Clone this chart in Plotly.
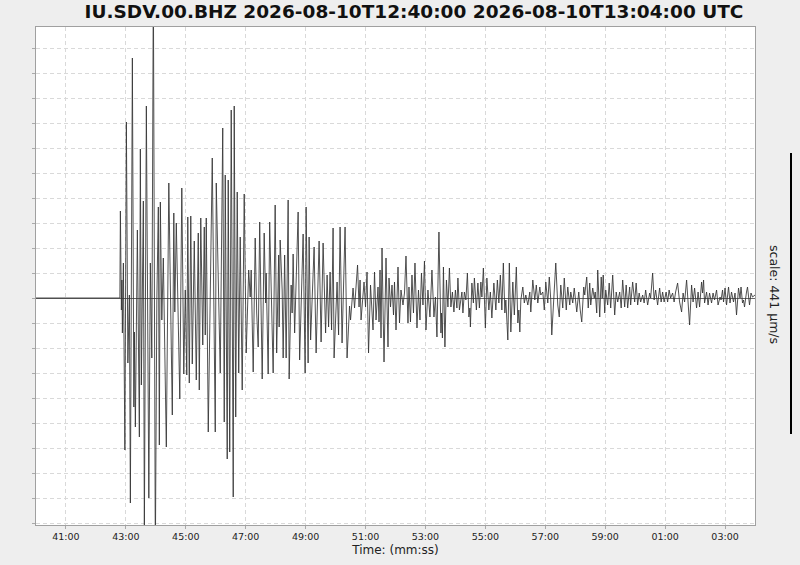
import pandas as pd
import plotly.graph_objects as go

# Seismogram IU.SDV.00.BHZ, amplitudes in counts (1 count ~ 1.57 um/s), time in s after 12:40:00
title_text = "IU.SDV.00.BHZ 2026-08-10T12:40:00 2026-08-10T13:04:00 UTC"
start_time = "2026-08-10 12:40:00"
end_time = "2026-08-10 13:04:00"
scale_label = "scale: 441 µm/s"

# pre-event + P/S onset (large amplitudes)
t_onset = [0, 168, 169, 171, 172, 173, 175, 178, 181, 184, 187, 189, 193, 196, 197, 199, 203, 207,
           209, 211, 215, 217, 221, 226, 229, 232, 235, 239, 242, 245, 247, 249, 252, 255, 261, 266,
           273, 276, 278, 281, 288, 292, 296, 299, 302, 304, 307, 310, 313, 317, 321, 325, 327, 330,
           334, 337, 339, 341, 345, 353, 359, 361, 369, 374, 377, 379, 383, 385, 388, 391, 395, 397,
           400, 403, 406, 409, 413, 417, 421, 426, 429, 431, 435, 439]
a_onset = [0, 0, 87, -12, 18, -35, 35, -152, 176, -65, 3, -205, 240, -109, -34, -129, 68, -139,
           149, -87, 97, -240, 192, -200, 35, -60, 320, -260, -2, 91, -147, 96, -22, 40, -149, 115,
           -117, 85, -14, 75, -101, 110, -76, 8, -77, 81, -85, 82, -66, 57, -82, 65, -92, 80,
           -47, 71, -37, 80, -134, 140, -134, 115, -75, 170, -124, 123, -161, 118, -154, 188, -199, 192,
           -119, 106, -75, 61, -92, 104, -55, 28, 1, 28, -74, 60]

# surface waves
t_surface = [442, 445, 448, 453, 457, 460, 461, 465, 468, 471, 475, 479, 482, 486, 487, 489, 493, 495,
             498, 501, 505, 507, 511, 513, 515, 518, 525, 528, 535, 539, 541, 545, 547, 550, 557, 561,
             567, 571, 575, 580, 583, 586, 589, 592, 595, 597, 603, 606, 609, 613, 619, 623, 628, 630,
             635, 638, 644, 647, 649, 651, 657, 660, 663, 666, 670, 675]
a_surface = [-15, -49, 76, -81, 65, -5, 25, -76, 76, 8, -75, 93, -55, 43, -29, 58, 8, -60,
             43, -60, 98, -81, 13, -15, 44, -35, 86, -62, 64, -75, 91, -65, 61, -42, 51, -55,
             57, -44, 55, -35, 23, -29, 26, -32, 70, -60, 16, -37, 71, -45, 71, -60, -8, -22,
             10, -10, 33, -9, 18, -22, 16, -9, 26, -55, 13, -32]

# coda, first part
t_coda1 = [678, 681, 685, 687, 689, 691, 693, 697, 701, 705, 707, 710, 713, 716, 718, 721, 725, 728,
           731, 735, 738, 741, 745, 747, 750, 753, 756, 759, 763, 766, 769, 772, 775, 778, 781, 785,
           789, 793, 797, 800, 803, 807, 811, 812, 814, 816, 819, 822, 825, 828, 831, 834, 837, 840,
           843, 845, 848, 853, 855, 858, 861, 864, 867, 869, 870, 873, 876, 878, 882, 885, 888, 891,
           893, 896, 900, 903, 907, 910, 913, 917, 921, 924, 927, 930, 933, 936, 939, 941, 945, 948,
           951, 955, 958, 962, 965, 967, 969, 971, 975, 978, 981, 985, 989, 991, 995, 999, 1002, 1005,
           1009, 1011, 1015, 1018, 1021, 1025, 1028, 1031, 1033]
a_coda1 = [26, -22, 11, -24, 28, -40, 50, -64, 40, -49, 20, -9, 13, -17, 16, -32, 31, -25,
           8, -7, 5, 42, -25, 11, -24, 23, -15, 35, -30, 8, -22, 25, -7, 37, -32, 8,
           -19, 28, -19, 1, -39, 66, -35, -15, -40, 31, -49, 18, -9, 30, -9, 6, -14, 8,
           -10, 20, -12, 6, -15, 6, -2, 25, -19, -10, -29, 15, -5, 20, -12, 15, -10, 16,
           1, 30, -30, 20, -12, 6, -20, 15, -12, 18, -5, 23, -12, 35, -15, -2, -42, 35,
           -34, 16, -17, 31, -25, -12, -34, -2, 11, -5, 3, -7, 6, -14, 18, -2, 13, -5,
           11, 3, 6, -12, 16, -5, 21, -2, -37]

# coda, second part
t_coda2 = [1041, 1045, 1048, 1051, 1055, 1058, 1062, 1065, 1069, 1071, 1075, 1078, 1083, 1087, 1090,
           1093, 1097, 1099, 1103, 1106, 1109, 1111, 1115, 1118, 1120, 1123, 1125, 1129, 1132, 1134,
           1136, 1139, 1141, 1145, 1148, 1151, 1155, 1159, 1162, 1165, 1169, 1172, 1175, 1179, 1182,
           1185, 1189, 1191, 1195, 1199, 1202, 1205, 1208, 1211, 1215, 1218, 1221, 1225, 1229, 1231,
           1235, 1238, 1241, 1245, 1249, 1252, 1255, 1258, 1262, 1265, 1268, 1271, 1275, 1278, 1281,
           1285, 1289, 1293, 1296, 1299, 1303, 1306, 1309, 1313, 1316, 1319, 1323, 1326, 1329, 1333,
           1335, 1337, 1339, 1343, 1346, 1349, 1353, 1356, 1359, 1363, 1366, 1370, 1372, 1375, 1377,
           1380, 1383, 1387, 1390, 1393, 1397, 1400, 1403, 1407, 1410, 1412, 1415, 1417, 1419, 1423,
           1425, 1429, 1432, 1435, 1440]
a_coda2 = [35, -7, -19, 13, -10, 20, -12, 11, -7, 6, -5, 10, -14, 6, -12,
           -24, 11, 3, 21, -10, 15, -7, 10, 0, 6, -15, 28, -19, 21, 0,
           23, -15, 8, -7, 15, -10, 23, -17, 6, -4, 6, -10, 18, -9, 13,
           -10, 11, -7, 16, -4, 15, -7, 5, -4, 3, -5, 8, -7, 5, 0,
           25, -2, 8, -7, 10, -4, 6, -4, 6, -4, 8, 0, 5, -4, 6,
           15, -4, -14, 5, -4, 18, -4, -27, 13, -4, 10, -10, 6, -9, 16,
           5, 18, -5, 6, -7, 5, -5, 5, -2, 8, -7, 1, -2, 8, -4,
           10, -7, 11, -5, 6, -4, 5, -17, 10, 0, 11, -5, -2, -9, 6,
           11, -7, 5, 1, 3]

# x tick labels
tick_labels = ["41:00", "43:00", "45:00", "47:00", "49:00", "51:00",
               "53:00", "55:00", "57:00", "59:00", "01:00", "03:00"]

t_all = t_onset + t_surface + t_coda1 + t_coda2
a_all = a_onset + a_surface + a_coda1 + a_coda2
base = pd.Timestamp(start_time)
times = [base + pd.Timedelta(seconds=s) for s in t_all]
tick_vals = [base + pd.Timedelta(minutes=1 + 2 * i) for i in range(len(tick_labels))]

fig = go.Figure()
fig.add_trace(go.Scatter(x=times, y=a_all, mode="lines",
                         line=dict(color="#333333", width=0.85), hoverinfo="skip",
                         showlegend=False))

grid = dict(gridcolor="#d9d9d9", griddash="4px,3px", gridwidth=1)
fig.update_layout(
    width=800, height=565,
    paper_bgcolor="#eeeeee", plot_bgcolor="white",
    margin=dict(l=36, r=45, t=27, b=40, autoexpand=False),
    font=dict(family="DejaVu Sans", color="#222222"),
    title=dict(text="<b>" + title_text + "</b>", font=dict(size=18.5, color="#111111"),
               x=414 / 800, xanchor="center", xref="container",
               y=1 - 12 / 565, yanchor="middle"),
    xaxis=dict(type="date", range=[start_time, end_time], tickvals=tick_vals,
               ticktext=tick_labels, tickfont=dict(size=9.5),
               ticks="outside", ticklen=3, tickcolor="#aaaaaa",
               showline=True, mirror=True, linecolor="#a0a0a0", linewidth=1,
               title=dict(text="Time: (mm:ss)", font=dict(size=12), standoff=4),
               zeroline=False, **grid),
    yaxis=dict(range=[-227, 271], tick0=0, dtick=25, showticklabels=False,
               ticks="outside", ticklen=3, tickcolor="#aaaaaa",
               showline=True, mirror=True, linecolor="#a0a0a0", linewidth=1,
               zeroline=True, zerolinecolor="#666666", zerolinewidth=1, **grid),
)

fig.add_shape(type="line", xref="paper", yref="paper", x0=(791 - 36) / 719, x1=(791 - 36) / 719,
              y0=(525 - 434) / 498, y1=(525 - 153) / 498, line=dict(color="black", width=2))
fig.add_annotation(text=scale_label, xref="paper", yref="paper", x=(775 - 36) / 719,
                   y=(525 - 294) / 498, textangle=90, showarrow=False,
                   font=dict(size=12.5, color="#222222"), xanchor="center", yanchor="middle")

fig.write_html("out.html", config={"displayModeBar": False},
               post_script="document.body.style.margin='0';")
